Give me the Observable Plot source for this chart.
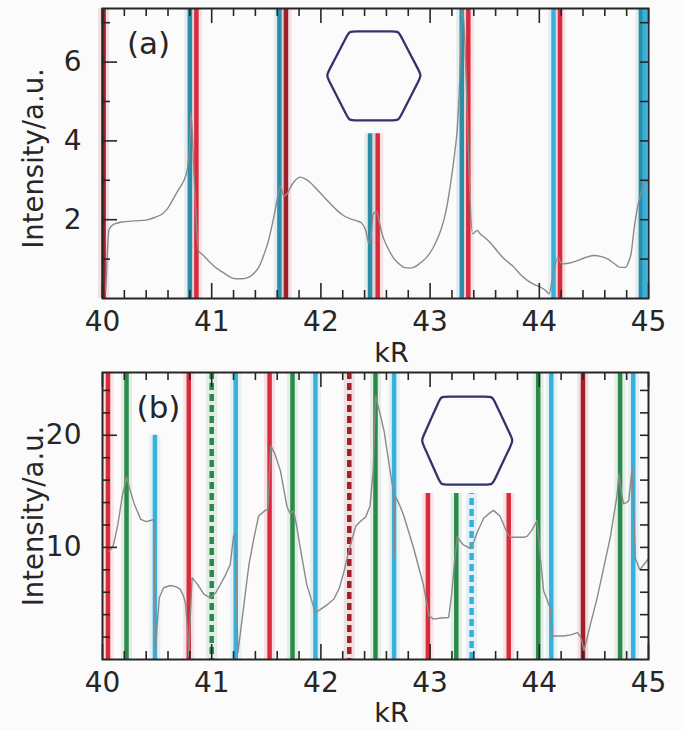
<!DOCTYPE html>
<html><head><meta charset="utf-8">
<script src="https://cdn.jsdelivr.net/npm/d3@7"></script>
<script src="https://cdn.jsdelivr.net/npm/@observablehq/plot@0.6"></script>
<style>
body{margin:0;background:#fbfbfb;}
#chart svg{display:block;overflow:visible;}
</style></head><body><div id="chart"></div>
<script>
// ---------- data ----------
const xMajor = [40, 41, 42, 43, 44, 45];
const xMinor = [40.2,40.4,40.6,40.8,41.2,41.4,41.6,41.8,42.2,42.4,42.6,42.8,43.2,43.4,43.6,43.8,44.2,44.4,44.6,44.8];

// panel (a)
const yA_labels = [2, 4, 6];
const yA_minor = [1, 3, 5, 7];
const yA_right = [1, 2, 3, 4, 5, 6, 7];
const linesA_kR   = [40.01, 40.80, 40.86, 41.62, 41.68, 42.45, 42.52, 43.29, 43.35, 44.13, 44.19, 44.93, 44.965];
const linesA_kind = ["dr","t","r","t","dr","t","r","t","r","c","r","t","c"];
const linesA_top  = [null,null,null,null,null,4.18,4.18,null,null,null,null,null,null];
const curveA = [[40.03,0.2],[40.06,1.75],[40.10,1.88],[40.18,1.94],[40.30,1.97],[40.40,1.99],[40.48,2.06],[40.55,2.15],[40.60,2.3],[40.64,2.49],[40.70,2.78],[40.73,2.91],[40.76,3.1],[40.78,3.33],[40.80,4.0],[40.81,4.7],[40.84,3.0],[40.88,1.2],[40.91,1.13],[40.97,0.96],[41.03,0.8],[41.10,0.67],[41.16,0.56],[41.22,0.50],[41.28,0.50],[41.34,0.54],[41.40,0.68],[41.43,0.79],[41.47,1.05],[41.52,1.47],[41.56,1.95],[41.58,2.23],[41.61,2.66],[41.63,2.85],[41.66,2.6],[41.70,2.7],[41.72,2.82],[41.76,2.98],[41.81,3.08],[41.86,3.03],[41.90,2.95],[41.96,2.78],[42.03,2.57],[42.09,2.4],[42.15,2.23],[42.21,2.1],[42.27,2.02],[42.33,1.97],[42.37,1.92],[42.41,1.73],[42.44,1.39],[42.46,1.6],[42.48,2.15],[42.51,2.2],[42.53,2.0],[42.56,1.64],[42.61,1.30],[42.67,1.01],[42.72,0.87],[42.76,0.79],[42.81,0.77],[42.85,0.79],[42.91,0.9],[42.97,1.05],[43.02,1.25],[43.06,1.47],[43.10,1.75],[43.14,2.15],[43.17,2.6],[43.20,3.16],[43.23,3.8],[43.25,4.35],[43.27,5.5],[43.28,6.3],[43.295,7.36],[43.39,1.64],[43.43,1.73],[43.46,1.64],[43.50,1.55],[43.55,1.42],[43.61,1.22],[43.68,1.0],[43.77,0.79],[43.83,0.6],[43.89,0.46],[43.95,0.36],[44.01,0.29],[44.06,0.2],[44.09,0.12],[44.12,0.5],[44.17,1.05],[44.20,0.9],[44.22,0.88],[44.28,0.9],[44.35,0.96],[44.42,1.04],[44.50,1.09],[44.56,1.07],[44.62,1.01],[44.68,0.9],[44.74,0.79],[44.79,0.79],[44.82,0.95],[44.84,1.13],[44.87,1.81],[44.90,2.32],[44.93,2.66],[44.96,2.9],[45.0,3.0]];
const hexA_kR = [42.05, 42.26, 42.71, 42.92, 42.71, 42.26];
const hexA_I  = [5.66, 6.78, 6.78, 5.66, 4.52, 4.52];

// panel (b)
const yB_labels = [10, 20];
const yB_minor = [2,4,6,8,12,14,16,18,22,24];
const yB_right = [2,4,6,8,10,12,14,16,18,20,22,24];
const linesB_kR     = [40.05, 40.22, 40.48, 40.79, 41.00, 41.22, 41.53, 41.74, 41.95, 42.26, 42.50, 42.67, 42.98, 43.24, 43.38, 43.72, 43.99, 44.11, 44.40, 44.74, 44.86];
const linesB_kind   = ["r","g","c","r","g","c","r","g","c","dr","g","c","r","g","c","r","g","c","dr","g","c"];
const linesB_top    = [null,null,20,null,null,null,null,null,null,null,null,null,14.8,14.8,14.8,14.8,null,null,null,null,null];
const linesB_dashed = [false,false,false,false,true,false,false,false,false,true,false,false,false,false,true,false,false,false,false,false,false];
const curveB = [[40.06,9.6],[40.10,10.2],[40.14,12.0],[40.18,14.5],[40.22,16.3],[40.25,15.2],[40.29,13.9],[40.35,12.5],[40.40,12.3],[40.44,12.4],[40.47,12.5],[40.485,0.5],[40.50,3.0],[40.52,5.5],[40.56,6.4],[40.62,6.6],[40.67,6.5],[40.71,6.3],[40.74,5.7],[40.76,5.0],[40.78,2.6],[40.79,0.3],[40.805,4.0],[40.82,7.3],[40.87,6.7],[40.93,5.8],[40.99,5.5],[41.04,6.0],[41.08,6.7],[41.13,7.6],[41.17,8.5],[41.20,11.0],[41.215,11.3],[41.24,0.6],[41.29,4.5],[41.34,8.4],[41.39,11.0],[41.43,12.8],[41.49,13.3],[41.515,13.4],[41.54,19.1],[41.58,18.3],[41.63,16.8],[41.69,13.6],[41.72,13.0],[41.75,13.3],[41.78,11.8],[41.81,10.0],[41.87,6.7],[41.93,4.8],[41.945,4.2],[41.97,4.3],[42.00,4.5],[42.06,4.9],[42.12,5.4],[42.17,6.4],[42.21,7.8],[42.27,10.2],[42.32,11.9],[42.37,12.4],[42.41,12.7],[42.45,13.7],[42.48,17.0],[42.50,23.5],[42.54,22.0],[42.58,20.3],[42.64,16.4],[42.665,14.9],[42.672,9.2],[42.68,14.6],[42.72,13.8],[42.76,12.8],[42.85,9.9],[42.94,6.6],[42.99,3.9],[43.03,3.6],[43.10,3.7],[43.17,3.75],[43.20,6.0],[43.22,8.4],[43.25,11.0],[43.28,10.5],[43.31,10.2],[43.37,9.9],[43.40,10.5],[43.43,11.3],[43.49,12.6],[43.55,13.1],[43.58,13.3],[43.64,12.8],[43.67,12.1],[43.71,11.2],[43.74,10.9],[43.80,10.9],[43.86,10.9],[43.89,11.0],[43.93,11.5],[43.98,12.4],[44.01,9.0],[44.04,6.1],[44.10,4.6],[44.12,2.1],[44.16,2.1],[44.22,2.1],[44.29,2.2],[44.35,2.4],[44.38,2.0],[44.41,0.8],[44.47,3.2],[44.53,5.5],[44.59,8.2],[44.65,10.9],[44.71,14.5],[44.73,16.6],[44.75,15.0],[44.77,13.9],[44.80,14.0],[44.82,14.2],[44.85,17.1],[44.88,9.0],[44.92,8.0],[44.96,8.5],[45.0,9.0]];
const hexB_kR = [42.92, 43.10, 43.57, 43.76, 43.57, 43.10];
const hexB_I  = [19.53, 23.45, 23.45, 19.53, 15.6, 15.6];

// ---------- styles ----------
const kinds = ["r", "dr", "c", "t", "g"];
const kindColors = ["#d92b3c", "#a01f28", "#38b0dc", "#2a8fa6", "#2a8a4a"];
const ink = "#262626";
const font = "DejaVu Sans";

function rows(kR, kind, top, dashed) {
  return kR.map((k, i) => ({kR: k, kind: kind[i], top: top[i], dashed: dashed ? dashed[i] : false}));
}

function panel(cfg) {
  const fh = cfg.height - cfg.mt - cfg.mb;
  const fw = 684 - cfg.ml - cfg.mr;
  const L = cfg.lines;
  const full = L.filter(d => d.top == null);
  const short = L.filter(d => d.top != null);
  const ruleOpts = (extra) => Object.assign({x: "kR", stroke: "kind", strokeWidth: 4.5}, extra);
  // each vertex doubled -> closed B-spline gives a hexagon with rounded corners
  const hex = cfg.hexX.flatMap((x, i) => [{x, y: cfg.hexY[i]}, {x, y: cfg.hexY[i]}]);
  const curve = cfg.curve.map(([x, y]) => ({x, y}));
  return Plot.plot({
    width: 684, height: cfg.height,
    marginTop: cfg.mt, marginBottom: cfg.mb, marginLeft: cfg.ml, marginRight: cfg.mr,
    x: {domain: [40, 45]},
    y: {domain: cfg.yDomain},
    color: {type: "ordinal", domain: kinds, range: kindColors},
    style: {fontFamily: font, background: "transparent", color: ink, overflow: "visible"},
    marks: [
      Plot.ruleX(full, ruleOpts({strokeWidth: 11, strokeOpacity: 0.12})),
      Plot.ruleX(short, ruleOpts({y1: 0, y2: "top", strokeWidth: 11, strokeOpacity: 0.12})),
      Plot.ruleX(full.filter(d => !d.dashed), ruleOpts({})),
      Plot.ruleX(short.filter(d => !d.dashed), ruleOpts({y1: 0, y2: "top"})),
      Plot.ruleX(full.filter(d => d.dashed), ruleOpts({strokeDasharray: "7,4"})),
      Plot.ruleX(short.filter(d => d.dashed), ruleOpts({y1: 0, y2: "top", strokeDasharray: "7,4"})),
      Plot.line(curve, {x: "x", y: "y", stroke: "#8a8a8a", strokeWidth: 1.4, curve: cfg.curveType, clip: true}),
      Plot.line(hex, {x: "x", y: "y", curve: "basis-closed", stroke: "#33336e", strokeWidth: 2.3}),
      Plot.tickX(xMinor, {x: d => d, insetTop: fh - 8, stroke: ink, strokeWidth: 1.6}),
      Plot.tickX(xMajor, {x: d => d, insetTop: fh - 15, stroke: ink, strokeWidth: 1.6}),
      Plot.tickX(xMinor, {x: d => d, insetBottom: fh - 8, stroke: ink, strokeWidth: 1.6}),
      Plot.tickX(xMajor, {x: d => d, insetBottom: fh - 15, stroke: ink, strokeWidth: 1.6}),
      Plot.tickY(cfg.yMinor, {y: d => d, insetRight: fw - 8, stroke: ink, strokeWidth: 1.6}),
      Plot.tickY(cfg.yLabels, {y: d => d, insetRight: fw - 15, stroke: ink, strokeWidth: 1.6}),
      Plot.tickY(cfg.yRight, {y: d => d, insetLeft: fw - 8, stroke: ink, strokeWidth: 1.6}),
      Plot.frame({stroke: ink, strokeWidth: 2}),
      Plot.axisX({ticks: xMajor, tickSize: 0, tickPadding: 13, fontSize: 28, label: null, tickFormat: d => String(d), fill: ink}),
      Plot.axisY({ticks: cfg.yLabels, tickSize: 0, tickPadding: 21, fontSize: 28, label: null, tickFormat: d => String(d), fill: ink}),
      Plot.text(["kR"], {frameAnchor: "bottom", dx: 16, dy: cfg.kRdy, text: d => d, fontSize: 27, fill: ink, textAnchor: "middle", lineAnchor: "middle"}),
      Plot.text(["Intensity/a.u."], {frameAnchor: "left", dx: -68, dy: cfg.ylabDy, rotate: -90, text: d => d, fontSize: 27.5, fill: ink, textAnchor: "middle", lineAnchor: "middle"}),
      Plot.text([cfg.tag], {frameAnchor: "top-left", dx: cfg.tagDx, dy: 36, text: d => d, fontSize: 31, fill: ink, textAnchor: "middle", lineAnchor: "middle"})
    ]
  });
}

const chart = document.getElementById("chart");
chart.appendChild(panel({
  height: 366, mt: 8, mb: 68, ml: 102, mr: 36,
  yDomain: [0, 7.36], yLabels: yA_labels, yMinor: yA_minor, yRight: yA_right,
  lines: rows(linesA_kR, linesA_kind, linesA_top),
  curve: curveA, curveType: "monotone-x",
  hexX: hexA_kR, hexY: hexA_I,
  kRdy: 55, ylabDy: 5, tag: "(a)", tagDx: 46
}));
chart.appendChild(panel({
  height: 364, mt: 6, mb: 71, ml: 102, mr: 36,
  yDomain: [0, 25.6], yLabels: yB_labels, yMinor: yB_minor, yRight: yB_right,
  lines: rows(linesB_kR, linesB_kind, linesB_top, linesB_dashed),
  curve: curveB, curveType: "linear",
  hexX: hexB_kR, hexY: hexB_I,
  kRdy: 54, ylabDy: 0, tag: "(b)", tagDx: 56
}));
</script></body></html>
